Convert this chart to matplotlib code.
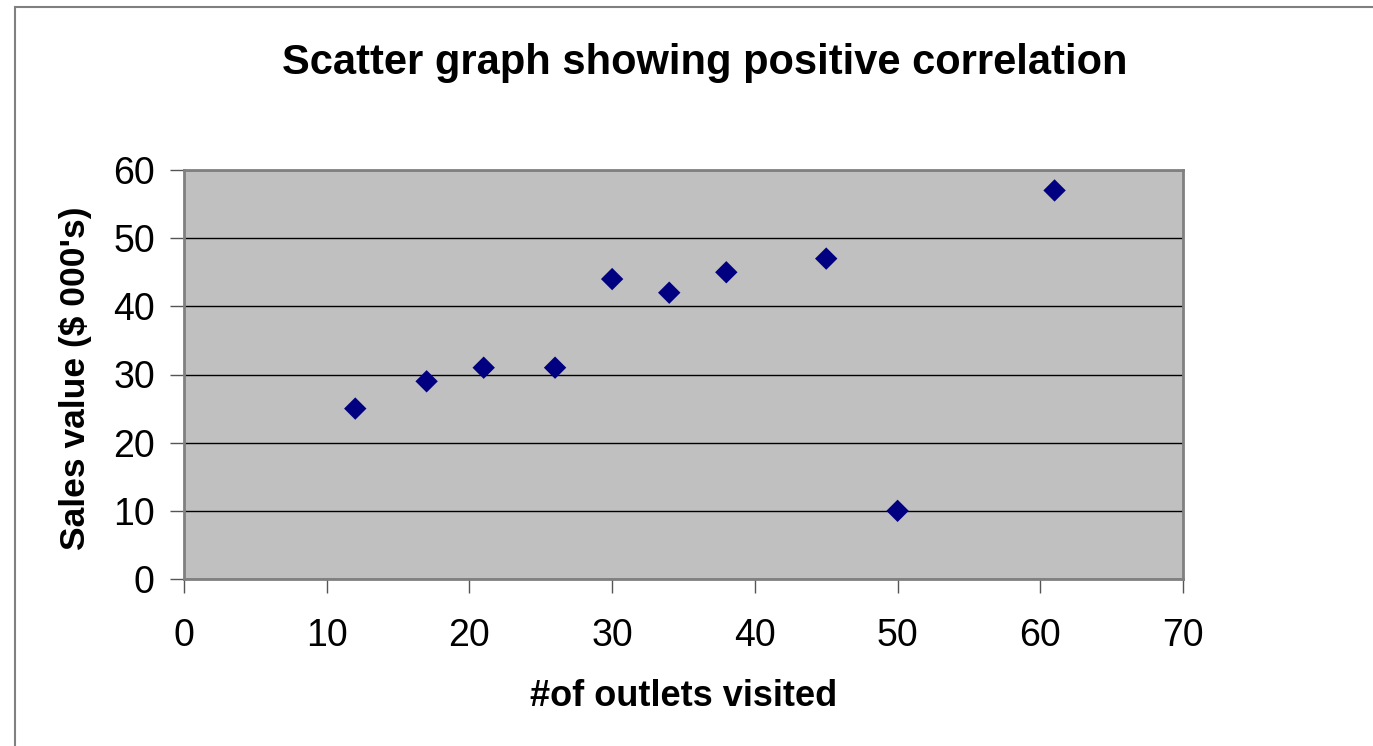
import matplotlib.pyplot as plt
from matplotlib.patches import Rectangle

# outlets visited vs sales value ($ 000's)
outlets = [12, 17, 21, 26, 30, 34, 38, 45, 50, 61]
sales = [25, 29, 31, 31, 44, 42, 45, 47, 10, 57]
x_ticks = [0, 10, 20, 30, 40, 50, 60, 70]
y_ticks = [0, 10, 20, 30, 40, 50, 60]

plt.rcParams['font.family'] = ['Liberation Sans', 'DejaVu Sans']

fig = plt.figure(figsize=(13.73, 7.46), dpi=100)
fig.patch.set_facecolor('white')

# outer chart frame (left and top edges visible)
fig.patches.append(Rectangle((15 / 1373, -0.1), 1.2, 1 - 7 / 746 + 0.1,
                             transform=fig.transFigure, fill=False,
                             edgecolor='#808080', linewidth=1.5))

ax = fig.add_axes([184 / 1373, 1 - 579 / 746, 999 / 1373, 409 / 746])
ax.set_facecolor('#c0c0c0')

ax.scatter(outlets, sales, marker='D', s=130, color='#000080',
           edgecolor='none', zorder=3)

ax.set_xlim(0, 70)
ax.set_ylim(0, 60)
ax.set_xticks(x_ticks)
ax.set_yticks(y_ticks)
ax.yaxis.grid(True, color='black', linewidth=1)
ax.set_axisbelow(True)

for s in ax.spines.values():
    s.set_color('#808080')
    s.set_linewidth(2)

ax.tick_params(axis='x', labelsize=27, length=10, width=1, color='#555555', pad=18)
ax.tick_params(axis='y', labelsize=27, length=10, width=1, color='#555555', pad=11)

fig.text(705 / 1373, 1 - 63 / 746, 'Scatter graph showing positive correlation',
         fontsize=30, fontweight='bold', ha='center', va='center')
fig.text(684 / 1373, 1 - 697 / 746, '#of outlets visited',
         fontsize=26, fontweight='bold', ha='center', va='center')
fig.text(76 / 1373, 1 - 378 / 746, "Sales value ($ 000's)",
         fontsize=25.5, fontweight='bold', ha='center', va='center', rotation=90)

plt.savefig('out.png', dpi=100)
